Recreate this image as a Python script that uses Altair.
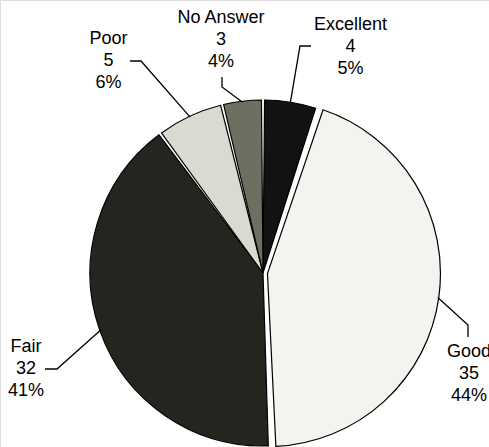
import math
import altair as alt
import pandas as pd

# ---- data ----
categories = ["Excellent", "Good", "Fair", "Poor", "No Answer"]
counts = [4, 35, 32, 5, 3]
fills = ["#121212", "#f3f3ef", "#25251f", "#dadad0", "#6f6f61"]

total = sum(counts)
percents = [f"{round(100 * c / total)}%" for c in counts]

# ---- layout ----
CX, CY, R = 263, 273, 173
EXPLODE = {"Good": 4.5}
label_xy = {  # label centre x, first baseline y
    "Excellent": (350.5, 30),
    "No Answer": (221, 23),
    "Poor": (108.5, 44),
    "Fair": (26, 352),
    "Good": (469, 357),
}
leader_pts = {  # points from label towards the slice (slice end is computed)
    "Excellent": [(311, 46), (300, 46)],
    "No Answer": [(222, 77), (222, 87)],
    "Poor": [(130, 61), (141, 61)],
    "Fair": [(45, 369), (57, 369)],
    "Good": [(468, 337), (468, 325)],
}

# slice mid angles (clockwise from 12 o'clock)
mids = {}
acc = 0
for cat, c in zip(categories, counts):
    a0 = acc / total * 2 * math.pi
    acc += c
    a1 = acc / total * 2 * math.pi
    mids[cat] = (a0 + a1) / 2

pie_df = pd.DataFrame({
    "category": categories,
    "count": counts,
    "fill": fills,
    "idx": list(range(len(categories))),
})

rows = []
for cat in categories:
    pts = list(leader_pts[cat])
    a = mids[cat]
    off = EXPLODE.get(cat, 0)
    cx = CX + off * math.sin(a)
    cy = CY - off * math.cos(a)
    pts.append((cx + (R - 1) * math.sin(a), cy - (R - 1) * math.cos(a)))
    for i, (x, y) in enumerate(pts):
        rows.append({"label": cat, "seq": i, "x": x, "y": y})
lead_df = pd.DataFrame(rows)

lab_df = pd.DataFrame({
    "category": categories,
    "text": [f"{cat}\n{c}\n{p}" for cat, c, p in zip(categories, counts, percents)],
    "x": [label_xy[c][0] for c in categories],
    "y": [label_xy[c][1] for c in categories],
})

arc_kw = dict(radius=R, padAngle=0.018, stroke="black", strokeWidth=1.2)

base_enc = dict(
    theta=alt.Theta("count:Q", stack=True),
    order=alt.Order("idx:Q"),
    fill=alt.Fill("fill:N", scale=None),
)

good_off = EXPLODE["Good"]
ga = mids["Good"]

pie_main = alt.Chart(pie_df).mark_arc(**arc_kw).encode(
    x=alt.value(CX), y=alt.value(CY),
    opacity=alt.when(alt.datum.category == "Good").then(alt.value(0)).otherwise(alt.value(1)),
    **base_enc,
)
pie_good = alt.Chart(pie_df).mark_arc(**arc_kw).encode(
    x=alt.value(CX + good_off * math.sin(ga)),
    y=alt.value(CY - good_off * math.cos(ga)),
    opacity=alt.when(alt.datum.category == "Good").then(alt.value(1)).otherwise(alt.value(0)),
    **base_enc,
)

leaders = alt.Chart(lead_df).mark_line(color="black", strokeWidth=1.3).encode(
    x=alt.X("x:Q", scale=None),
    y=alt.Y("y:Q", scale=None),
    detail="label:N",
    order="seq:Q",
)

labels = alt.Chart(lab_df).mark_text(
    font="Liberation Sans", fontSize=18, lineHeight=22, lineBreak="\n",
    align="center", baseline="alphabetic", color="black",
).encode(
    x=alt.X("x:Q", scale=None),
    y=alt.Y("y:Q", scale=None),
    text="text:N",
)

chart = alt.layer(pie_main, pie_good, leaders, labels).properties(
    width=489, height=447,
    autosize=alt.AutoSizeParams(type="none"),
    padding=0,
).configure_view(stroke=None).configure(background="white")

chart.save("out.html", embed_options={"renderer": "svg", "actions": False})
